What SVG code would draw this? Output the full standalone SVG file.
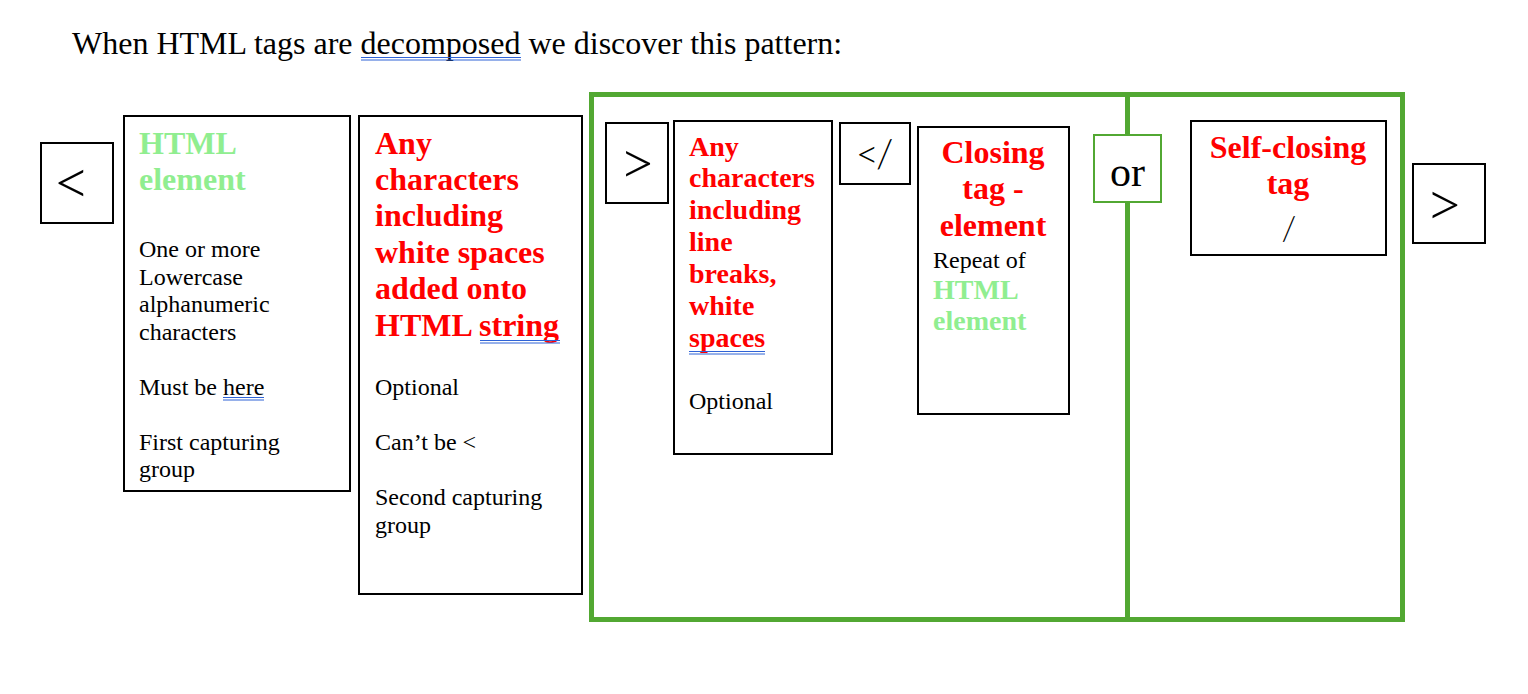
<svg xmlns="http://www.w3.org/2000/svg" width="1528" height="694" viewBox="0 0 1528 694">
<style>
text{font-family:"Liberation Serif","Times New Roman",serif;}
.box{fill:#fff;stroke:#000;stroke-width:2;}
.grp{fill:none;stroke:#52A832;stroke-width:5;}
.sym{font-family:"Lato","Liberation Sans",sans-serif;font-weight:300;fill:#000;}
.n24{font-size:24px;fill:#000;}
.r32{font-size:32px;font-weight:bold;fill:#FF0000;}
.r28{font-size:28px;font-weight:bold;fill:#FF0000;}
.g32{font-size:32px;font-weight:bold;fill:#90EE90;}
.g28{font-size:28px;font-weight:bold;fill:#90EE90;}
.ul{stroke:#2F63D6;stroke-width:1;}
</style>
<rect width="1528" height="694" fill="#fff"/>
<g id="title">
<text x="72" y="54" style="font-size:32px;fill:#000">When HTML tags are decomposed we discover this pattern:</text>
<line class="ul" x1="361" y1="57.5" x2="521" y2="57.5"/>
<line class="ul" x1="361" y1="60" x2="521" y2="60"/>
</g>
<g id="group-frame">
<rect class="grp" x="591.5" y="94.5" width="811" height="525"/>
<line class="grp" x1="1127.5" y1="94.5" x2="1127.5" y2="619.5"/>
</g>
<g id="connectors"></g>
<g id="open-lt">
<rect class="box" x="41" y="143" width="72" height="80"/>
<text class="sym" x="72" y="205" text-anchor="middle" style="font-size:66px">&lt;</text>
</g>
<g id="html-element">
<rect class="box" x="124" y="116" width="226" height="375"/>
<text class="g32" x="139" y="154">HTML</text>
<text class="g32" x="139" y="190">element</text>
<text class="n24" x="139" y="257">One or more</text>
<text class="n24" x="139" y="285">Lowercase</text>
<text class="n24" x="139" y="312">alphanumeric</text>
<text class="n24" x="139" y="340">characters</text>
<text class="n24" x="139" y="395">Must be here</text>
<line class="ul" x1="223" y1="397.5" x2="264" y2="397.5"/>
<line class="ul" x1="223" y1="400" x2="264" y2="400"/>
<text class="n24" x="139" y="450">First capturing</text>
<text class="n24" x="139" y="477">group</text>
</g>
<g id="attributes">
<rect class="box" x="359" y="116" width="223" height="478"/>
<text class="r32" x="375" y="154">Any</text>
<text class="r32" x="375" y="190">characters</text>
<text class="r32" x="375" y="226">including</text>
<text class="r32" x="375" y="263">white spaces</text>
<text class="r32" x="375" y="299">added onto</text>
<text class="r32" x="375" y="336">HTML string</text>
<line class="ul" x1="480" y1="340.5" x2="560" y2="340.5"/>
<line class="ul" x1="480" y1="343" x2="560" y2="343"/>
<text class="n24" x="375" y="395">Optional</text>
<text class="n24" x="375" y="450">Can’t be &lt;</text>
<text class="n24" x="375" y="505">Second capturing</text>
<text class="n24" x="375" y="533">group</text>
</g>
<g id="gt-1">
<rect class="box" x="606" y="123" width="62" height="80"/>
<text class="sym" x="637" y="185" text-anchor="middle" style="font-size:64px">&gt;</text>
</g>
<g id="content">
<rect class="box" x="674" y="121" width="158" height="333"/>
<text class="r28" x="689" y="156">Any</text>
<text class="r28" x="689" y="187">characters</text>
<text class="r28" x="689" y="219">including</text>
<text class="r28" x="689" y="251">line</text>
<text class="r28" x="689" y="283">breaks,</text>
<text class="r28" x="689" y="315">white</text>
<text class="r28" x="689" y="347">spaces</text>
<line class="ul" x1="689" y1="351.5" x2="765" y2="351.5"/>
<line class="ul" x1="689" y1="354" x2="765" y2="354"/>
<text class="n24" x="689" y="409">Optional</text>
</g>
<g id="close-open">
<rect class="box" x="840" y="123" width="70" height="61"/>
<text class="sym" x="873" y="168" text-anchor="middle" style="font-size:40px;letter-spacing:-3px">&lt;/</text>
</g>
<g id="closing-tag">
<rect class="box" x="918" y="127" width="151" height="287"/>
<text class="r32" x="993" y="163" text-anchor="middle">Closing</text>
<text class="r32" x="993" y="199" text-anchor="middle">tag -</text>
<text class="r32" x="993" y="236" text-anchor="middle">element</text>
<text class="n24" x="933" y="268">Repeat of</text>
<text class="g28" x="933" y="299">HTML</text>
<text class="g28" x="933" y="330">element</text>
</g>
<g id="or">
<rect x="1094" y="135" width="67" height="67" fill="#fff" stroke="#52A832" stroke-width="2"/>
<text x="1127.5" y="186" text-anchor="middle" style="font-size:42px;fill:#000">or</text>
</g>
<g id="self-closing">
<rect class="box" x="1191" y="121" width="195" height="134"/>
<text class="r32" x="1288" y="158" text-anchor="middle">Self-closing</text>
<text class="r32" x="1288" y="194" text-anchor="middle">tag</text>
<text class="sym" x="1289" y="240" text-anchor="middle" style="font-size:34px">/</text>
</g>
<g id="gt-2">
<rect class="box" x="1413" y="164" width="72" height="79"/>
<text class="sym" x="1444" y="227" text-anchor="middle" style="font-size:66px">&gt;</text>
</g>
</svg>
